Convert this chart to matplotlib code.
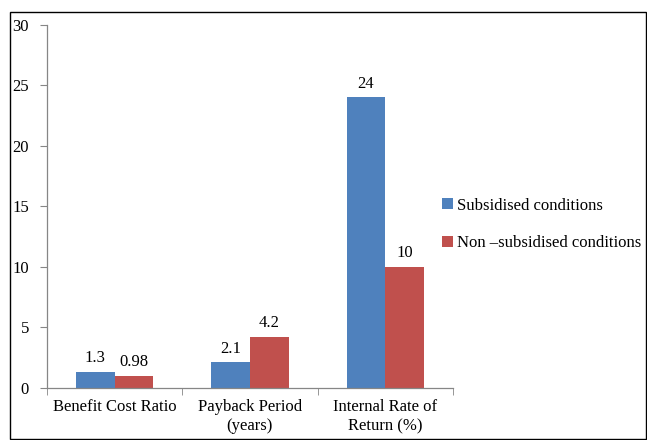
import matplotlib.pyplot as plt
import matplotlib.patches as patches
import numpy as np

plt.rcParams['font.family'] = ['Liberation Serif', 'DejaVu Serif']

categories = ["Benefit Cost Ratio", "Payback Period\n(years)", "Internal Rate of\nReturn (%)"]
subsidised = [1.3, 2.1, 24]
non_subsidised = [0.98, 4.2, 10]
labels_sub = ["1.3", "2.1", "24"]
labels_non = ["0.98", "4.2", "10"]

BLUE = "#4F81BD"
RED = "#C0504D"
AXIS_GREY = "#868686"
FS = 12

fig = plt.figure(figsize=(6.47, 4.40), dpi=100)
ax = fig.add_axes([0.0726, 0.119, 0.6274, 0.825])

x = np.arange(len(categories))
w = 0.286
b1 = ax.bar(x - w / 2, subsidised, w, color=BLUE, label="Subsidised conditions")
b2 = ax.bar(x + w / 2, non_subsidised, w, color=RED, label="Non \u2013subsidised conditions")

# value labels above each bar
for bars, labs in ((b1, labels_sub), (b2, labels_non)):
    for rect, lab in zip(bars, labs):
        ax.annotate(lab, (rect.get_x() + rect.get_width() / 2, rect.get_height()),
                    xytext=(0, 4), textcoords="offset points",
                    ha="center", va="bottom", fontsize=FS)

ax.set_xlim(-0.5, 2.5)
ax.set_ylim(0, 30)
ax.set_yticks(range(0, 31, 5))
ax.set_xticks(x)
ax.set_xticklabels(categories, fontsize=FS, linespacing=1.3)
ax.set_xticks([-0.5, 0.5, 1.5, 2.5], minor=True)
ax.tick_params(axis="x", which="major", length=0, pad=8)
ax.tick_params(axis="x", which="minor", length=5, color=AXIS_GREY, direction="out")
ax.tick_params(axis="y", length=5, color=AXIS_GREY, labelsize=FS, pad=8)

for side in ("top", "right"):
    ax.spines[side].set_visible(False)
for side in ("left", "bottom"):
    ax.spines[side].set_color(AXIS_GREY)
    ax.spines[side].set_linewidth(0.9)

fig.legend(handles=[b1, b2], loc="center left", bbox_to_anchor=(0.683, 0.490),
           frameon=False, fontsize=FS, handlelength=0.65, handleheight=0.65,
           handletextpad=0.25, labelspacing=1.3, borderpad=0, borderaxespad=0)

# outer chart border
fig.patches.append(patches.Rectangle((0.0155, 0.002), 0.983, 0.970, fill=False,
                                     edgecolor="black", linewidth=1.0,
                                     transform=fig.transFigure, figure=fig))

fig.savefig("out.png", dpi=100)
